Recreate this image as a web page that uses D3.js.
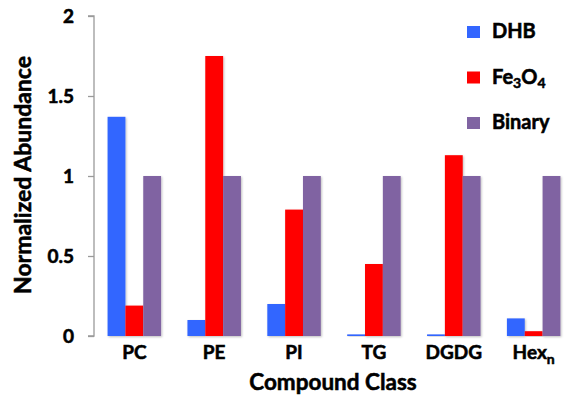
<!DOCTYPE html>
<html>
<head>
<meta charset="utf-8">
<script src="https://cdn.jsdelivr.net/npm/d3@7"></script>
<style>
  html, body { margin: 0; padding: 0; background: #fff; }
  svg text { font-family: Lato, "Open Sans", sans-serif; font-weight: 700; fill: #000; stroke: #000; stroke-width: 0.55px; }
</style>
</head>
<body>
<svg id="chart" width="565" height="396"></svg>
<script>
// Compound classes and normalized abundances per matrix
const categories = ["PC", "PE", "PI", "TG", "DGDG", "Hexn"];
const seriesNames = ["DHB", "Fe3O4", "Binary"];
const dhb    = [1.37, 0.10, 0.20, 0.01, 0.01, 0.11];
const fe3o4  = [0.19, 1.75, 0.79, 0.45, 1.13, 0.03];
const binary = [1.00, 1.00, 1.00, 1.00, 1.00, 1.00];
const yTicks = [0, 0.5, 1, 1.5, 2];
const yTickLabels = ["0", "0.5", "1", "1.5", "2"];
const colors = ["#3366ff", "#ff0000", "#8064a2"];

const seriesValues = [dhb, fe3o4, binary];
const rows = categories.map((c, i) => ({
  cat: c,
  vals: seriesNames.map((s, j) => ({ key: s, value: seriesValues[j][i], color: colors[j] }))
}));

const svg = d3.select("#chart");
const plotLeft = 94, plotRight = 574, plotTop = 16, plotBottom = 336;
const fontStack = "Lato, 'Open Sans', sans-serif";

const x = d3.scaleBand().domain(categories).range([plotLeft, plotRight]).paddingInner(0.33).paddingOuter(0.17);
const xs = d3.scaleBand().domain(seriesNames).range([0, x.bandwidth()]);
const y = d3.scaleLinear().domain([0, 2]).range([plotBottom, plotTop]);

// soft shadow under bars and axes
const defs = svg.append("defs");
const f = defs.append("filter").attr("id", "shadow").attr("x", "-20%").attr("y", "-20%").attr("width", "140%").attr("height", "140%");
f.append("feDropShadow").attr("dx", 1).attr("dy", 1).attr("stdDeviation", 0.8)
  .attr("flood-color", "#000").attr("flood-opacity", 0.25);

// bars
const g = svg.append("g");
g.selectAll("g.cat").data(rows).join("g")
  .attr("class", "cat")
  .attr("transform", d => `translate(${x(d.cat)},0)`)
  .selectAll("rect").data(d => d.vals).join("rect")
  .attr("x", d => xs(d.key))
  .attr("width", xs.bandwidth())
  .attr("y", d => y(d.value))
  .attr("height", d => y(0) - y(d.value))
  .attr("fill", d => d.color)
  .attr("filter", "url(#shadow)");

// y axis
const yAxis = svg.append("g")
  .attr("transform", `translate(${plotLeft},0)`)
  .call(d3.axisLeft(y).tickValues(yTicks).tickFormat((d, i) => yTickLabels[i]).tickSize(6).tickPadding(14));
yAxis.select(".domain").attr("stroke", "#9a9a9a").attr("stroke-width", 1.3).attr("d", `M-6,${plotTop}H0V${plotBottom}H-6`);
yAxis.selectAll(".tick line").attr("stroke", "#9a9a9a").attr("stroke-width", 1.3);
yAxis.selectAll(".tick text").attr("font-size", 19).attr("font-family", fontStack).attr("font-weight", 700).attr("fill", "#000");

// x axis
const xAxis = svg.append("g")
  .attr("transform", `translate(0,${plotBottom})`)
  .call(d3.axisBottom(x).tickSize(0).tickPadding(10));
xAxis.select(".domain").attr("stroke", "#9a9a9a").attr("stroke-width", 1.5).attr("filter", "url(#shadow)");
xAxis.selectAll(".tick text").attr("font-size", 19).attr("font-family", fontStack).attr("font-weight", 700).attr("fill", "#000")
  .each(function(d) {
    if (d === "Hexn") {
      const t = d3.select(this).text("");
      t.append("tspan").text("Hex");
      t.append("tspan").text("n").attr("font-size", 14).attr("dy", 5);
    }
  });

// axis titles
svg.append("text")
  .attr("transform", `translate(31,${(plotTop + plotBottom) / 2 - 1}) rotate(-90)`)
  .attr("text-anchor", "middle")
  .attr("font-size", 23)
  .text("Normalized Abundance");

svg.append("text")
  .attr("x", (plotLeft + plotRight) / 2 - 1)
  .attr("y", 390)
  .attr("text-anchor", "middle")
  .attr("font-size", 22.5)
  .text("Compound Class");

// legend
const legend = svg.append("g").attr("transform", "translate(467,26)");
const items = legend.selectAll("g").data(seriesNames).join("g")
  .attr("transform", (d, i) => `translate(0,${i * 45.5})`);
items.append("rect").attr("width", 13).attr("height", 12).attr("fill", (d, i) => colors[i]);
items.append("text").attr("x", 25).attr("y", 12).attr("font-size", 20)
  .each(function(d) {
    const t = d3.select(this);
    if (d === "Fe3O4") {
      t.append("tspan").text("Fe");
      t.append("tspan").text("3").attr("font-size", 14).attr("dy", 4);
      t.append("tspan").text("O").attr("dy", -4);
      t.append("tspan").text("4").attr("font-size", 14).attr("dy", 4);
    } else {
      t.text(d);
    }
  });
</script>
</body>
</html>
